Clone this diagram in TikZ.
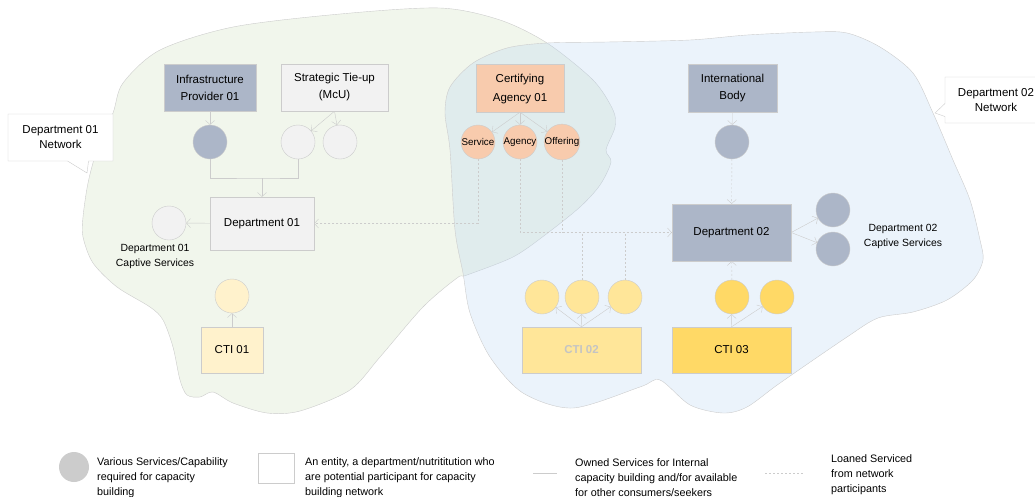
\documentclass[tikz,border=0pt]{standalone}
\usepackage{fontspec}
\setmainfont{Liberation Sans}
\usetikzlibrary{arrows.meta,shapes.callouts}
\definecolor{edge}{HTML}{CCCCCC}
\definecolor{slate}{HTML}{ACB6C8}
\definecolor{paper}{HTML}{F2F2F2}
\definecolor{peach}{HTML}{F8CBAD}
\definecolor{cream}{HTML}{FFF2CC}
\definecolor{butter}{HTML}{FFE699}
\definecolor{gold}{HTML}{FFD966}
\definecolor{greenzone}{HTML}{F1F6EC}
\definecolor{bluewash}{HTML}{BCD7F2}
\definecolor{fadedtext}{HTML}{C4C4C4}

\begin{document}
\begin{tikzpicture}[x=1pt,y=-1pt,
    >={Straight Barb[length=4pt,width=9pt]},
    box/.style={draw=edge,align=center,inner sep=0pt,font=\fontsize{11.5}{17}\selectfont},
    dot/.style={circle,draw=edge,minimum size=34pt,inner sep=0pt},
    link/.style={draw=edge,thin},
    loan/.style={draw=edge,thin,dash pattern=on 2pt off 2pt},
    zone/.style={draw=edge,thin},
    note/.style={rectangle callout,draw=edge,fill=white,align=center,font=\fontsize{11.5}{15}\selectfont},
    small/.style={align=center,font=\fontsize{10.4}{15}\selectfont},
    key/.style={anchor=west,align=left,inner sep=0pt,font=\fontsize{10.8}{15}\selectfont},
    ]
    \useasboundingbox (0,0) rectangle (1035,496);
    % network zones
    \filldraw[zone,fill=greenzone] plot[smooth cycle] coordinates {(113,113) (123,83) (160,50) (233,27) (340,14) (440,8) (500,20) (547,43) (593,80) (613,110) (615,127) (606,150) (611,162) (600,185) (580,207) (545,235) (513,257) (467,275) (457,278) (423,307) (380,357) (350,390) (300,411) (267,413) (233,403) (213,392) (200,397) (187,395) (180,380) (173,347) (163,320) (150,307) (117,287) (93,263) (83,237) (83,217) (88,183) (97,150)};
    \filldraw[zone,fill=bluewash,fill opacity=0.3] plot[smooth cycle] coordinates {(445,113) (450,87) (473,63) (507,48) (547,43) (607,42) (690,40) (747,35) (813,32) (847,33) (880,47) (913,73) (933,113) (953,160) (970,200) (980,240) (983,260) (973,280) (947,300) (913,312) (878,318) (847,337) (780,383) (747,407) (723,413) (690,405) (660,380) (640,387) (573,408) (523,393) (490,357) (470,313) (463,273) (455,230) (450,150)};
    \node[note,minimum width=105pt,minimum height=47pt,callout absolute pointer={(87,173)},callout pointer width=21pt] (net1) at (60.5,137.5) {Department 01\\Network};
    \node[note,minimum width=102pt,minimum height=46pt,callout absolute pointer={(935,113)},callout pointer width=13pt] (net2) at (996,100) {Department 02\\Network};

    % department 01 side
    \node[box,fill=slate,minimum width=92pt,minimum height=47pt] (infra) at (210,87.5) {Infrastructure\\Provider 01};
    \node[box,fill=paper,minimum width=107pt,minimum height=47pt] (tieup) at (334.5,87.5) {Strategic Tie-up\\(McU)};
    \node[dot,fill=slate] (infradot) at (210,142) {};
    \node[dot,fill=paper] (tiedot1) at (298,142) {};
    \node[dot,fill=paper] (tiedot2) at (340,142) {};
    \node[box,fill=paper,minimum width=104pt,minimum height=53pt] (dept1) at (262,223.5) {Department 01};
    \node[dot,fill=paper] (cap1) at (169,223) {};
    \node[small] (cap1label) at (155,256) {Department 01\\Captive Services};
    \node[box,fill=cream,minimum width=62pt,minimum height=46pt] (cti1) at (232,350) {CTI 01};
    \node[dot,fill=cream] (cti1dot) at (232,296) {};
    \coordinate (join1) at (262,178);

    \draw[link,->] (infra) -- (infradot);
    \draw[link,->] (tieup.south) -- (tiedot1);
    \draw[link,->] (tieup.south) -- (tiedot2);
    \draw[link] (infradot) |- (join1) -| (tiedot1);
    \draw[link,->] (join1) -- (dept1);
    \draw[link,->] (dept1) -- (cap1);
    \draw[link,->] (cti1) -- (cti1dot);

    % certifying agency
    \node[box,fill=peach,minimum width=88pt,minimum height=48pt,text depth=0pt] (cert) at (520,88) {Certifying\\[2pt]Agency 01};
    \node[dot,fill=peach,font=\fontsize{9.8}{11}\selectfont] (service) at (478,142) {Service};
    \node[dot,fill=peach,font=\fontsize{9.8}{11}\selectfont] (agency) at (520,142) {Agency};
    \node[dot,fill=peach,font=\fontsize{9.8}{11}\selectfont] (offering) at (562,142) {Offering};
    \draw[link,->] (cert.south) -- (service);
    \draw[link,->] (cert.south) -- (agency);
    \draw[link,->] (cert.south) -- (offering);

    % department 02 side
    \node[box,fill=slate,minimum width=89pt,minimum height=48pt] (intl) at (732.5,88) {International\\Body};
    \node[dot,fill=slate] (intldot) at (732,142) {};
    \node[box,fill=slate,minimum width=119pt,minimum height=57pt] (dept2) at (731.5,232.5) {Department 02};
    \node[dot,fill=slate] (cap2a) at (833,210) {};
    \node[dot,fill=slate] (cap2b) at (833,249) {};
    \node[small] (cap2label) at (903,236) {Department 02\\Captive Services};
    \node[box,fill=butter,text=fadedtext,minimum width=119pt,minimum height=46pt] (cti2) at (581.5,350) {\bfseries CTI 02};
    \node[dot,fill=butter] (cti2a) at (542,297) {};
    \node[dot,fill=butter] (cti2b) at (582,297) {};
    \node[dot,fill=butter] (cti2c) at (625,297) {};
    \node[box,fill=gold,minimum width=119pt,minimum height=46pt] (cti3) at (731.5,350) {CTI 03};
    \node[dot,fill=gold] (cti3a) at (732,297) {};
    \node[dot,fill=gold] (cti3b) at (777,297) {};

    \draw[link,->] (intl) -- (intldot);
    \draw[loan,->] (intldot) -- (dept2);
    \draw[link,->] (dept2.east) -- (cap2a);
    \draw[link,->] (dept2.east) -- (cap2b);
    \draw[link,->] (cti2.north) -- (cti2a);
    \draw[link,->] (cti2.north) -- (cti2b);
    \draw[link,->] (cti2.north) -- (cti2c);
    \draw[link,->] (cti3.north) -- (cti3a);
    \draw[link,->] (cti3.north) -- (cti3b);
    \draw[loan,->] (cti3a) -- (dept2);

    % loaned services
    \draw[loan,->] (service) |- (dept1);
    \draw[loan,->] (agency) |- (dept2);
    \draw[loan] (offering) -- (offering |- dept2);
    \draw[loan] (cti2b) -- (cti2b |- dept2);
    \draw[loan] (cti2c) -- (cti2c |- dept2);

    % legend
    \node[dot,fill=edge,draw=none,minimum size=30pt] (keydot) at (74,467) {};
    \node[key] (keydottext) at (97,478) {Various Services/Capability\\required for capacity\\building};
    \node[draw=edge,minimum width=36pt,minimum height=30pt,inner sep=0pt] (keybox) at (276,468) {};
    \node[key] (keyboxtext) at (305,478) {An entity, a department/nutrititution who\\are potential participant for capacity\\building network};
    \coordinate (ownA) at (533,473);
    \coordinate (ownB) at (557,473);
    \draw[link] (ownA) -- (ownB);
    \node[key] (owntext) at (575,478) {Owned Services for Internal\\capacity building and/for available\\for other consumers/seekers};
    \coordinate (loanA) at (765,473);
    \coordinate (loanB) at (804,473);
    \draw[loan] (loanA) -- (loanB);
    \node[key] (loantext) at (831,475) {Loaned Serviced\\from network\\participants};
\end{tikzpicture}
\end{document}
